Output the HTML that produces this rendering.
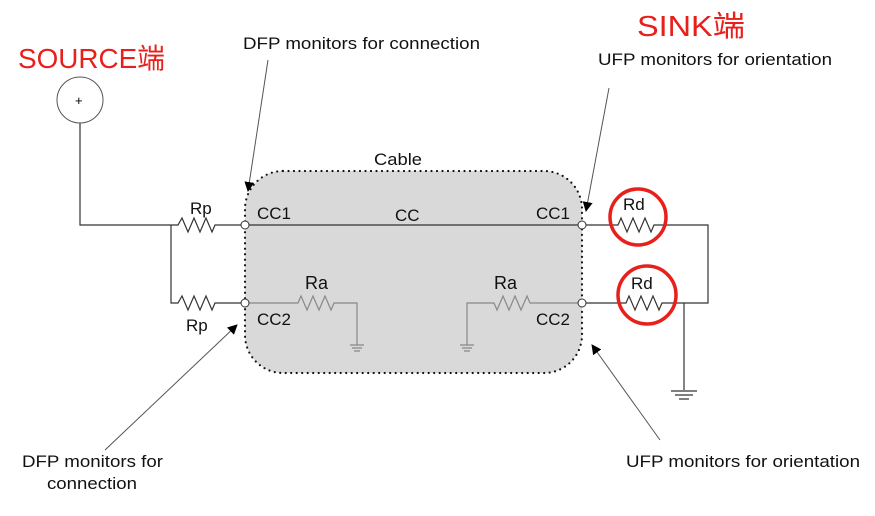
<!DOCTYPE html>
<html><head><meta charset="utf-8"><style>
body{margin:0;background:#fff}
svg text{font-family:"Liberation Sans","Noto Sans CJK SC",sans-serif}
</style></head><body>
<svg width="875" height="511" viewBox="0 0 875 511" xmlns="http://www.w3.org/2000/svg">
<defs><marker id="ah" markerWidth="10" markerHeight="10" refX="9" refY="5" orient="auto" markerUnits="userSpaceOnUse"><path d="M0,0 L10,5 L0,10 z" fill="#000"/></marker></defs>
<rect x="245" y="171" width="337" height="202" rx="38" fill="#d9d9d9" stroke="#111" stroke-width="2.2" stroke-dasharray="0 5.5" stroke-linecap="round"/>
<text x="18" y="68" font-size="28" fill="#e8201c" textLength="147" lengthAdjust="spacingAndGlyphs">SOURCE端</text>
<text x="637" y="36" font-size="29" fill="#e8201c" textLength="108" lengthAdjust="spacingAndGlyphs">SINK端</text>
<g font-size="17" fill="#111">
<text x="243" y="49" textLength="237" lengthAdjust="spacingAndGlyphs">DFP monitors for connection</text>
<text x="598" y="65" textLength="234" lengthAdjust="spacingAndGlyphs">UFP monitors for orientation</text>
<text x="374" y="165" textLength="48" lengthAdjust="spacingAndGlyphs">Cable</text>
<text x="22" y="467" textLength="141" lengthAdjust="spacingAndGlyphs">DFP monitors for</text>
<text x="47" y="489" textLength="90" lengthAdjust="spacingAndGlyphs">connection</text>
<text x="626" y="467" textLength="234" lengthAdjust="spacingAndGlyphs">UFP monitors for orientation</text>
</g>
<circle cx="80" cy="100" r="23" fill="#fff" stroke="#555" stroke-width="1"/>
<text x="75" y="105" font-size="13">+</text>
<g fill="none" stroke="#333" stroke-width="1.2">
<path d="M80,123 V225 H178 l4,-7 l6,14 l6,-14 l6,14 l6,-14 l6,14 l3,-7 H241"/>
<path d="M171,225 V303 H178 l4,-7 l6,14 l6,-14 l6,14 l6,-14 l6,14 l3,-7 H241"/>
<path d="M249,225 H578"/>
<path d="M586,225 H618 l3,-7 l6,14 l6,-14 l6,14 l6,-14 l6,14 l3,-7 H708 V303 H690"/>
<path d="M586,303 H626 l3,-7 l6,14 l6,-14 l6,14 l6,-14 l6,14 l3,-7 H690"/>
<path d="M684,303 V390 M671,391 H697 M675,395 H693 M679,399 H689"/>
</g>
<g fill="none" stroke="#888" stroke-width="1.2">
<path d="M249,303 H298 l3,-7 l6,14 l6,-14 l6,14 l6,-14 l6,14 l3,-7 H357 V345 M350,345 H364 M352,348 H362 M354,351 H360"/>
<path d="M578,303 H530 l-3,-7 l-6,14 l-6,-14 l-6,14 l-6,-14 l-6,14 l-3,-7 H467 V345 M460,345 H474 M462,348 H472 M464,351 H470"/>
</g>
<circle cx="245" cy="225" r="4" fill="#fff" stroke="#333"/>
<circle cx="245" cy="303" r="4" fill="#fff" stroke="#333"/>
<circle cx="582" cy="225" r="4" fill="#fff" stroke="#333"/>
<circle cx="582" cy="303" r="4" fill="#fff" stroke="#333"/>
<g font-size="17" fill="#111">
<text x="190" y="214">Rp</text>
<text x="186" y="331">Rp</text>
<text x="257" y="219">CC1</text>
<text x="257" y="325">CC2</text>
<text x="395" y="221">CC</text>
<text x="536" y="219">CC1</text>
<text x="536" y="325">CC2</text>
<text x="305" y="289" font-size="18">Ra</text>
<text x="494" y="289" font-size="18">Ra</text>
<text x="623" y="210">Rd</text>
<text x="631" y="289">Rd</text>
</g>
<circle cx="638" cy="217" r="28" fill="none" stroke="#e8201c" stroke-width="3.5"/>
<circle cx="647" cy="295" r="29" fill="none" stroke="#e8201c" stroke-width="3.5"/>
<g stroke="#555" stroke-width="1" marker-end="url(#ah)">
<line x1="268" y1="60" x2="248" y2="191"/>
<line x1="609" y1="88" x2="586" y2="211"/>
<line x1="105" y1="450" x2="237" y2="325"/>
<line x1="660" y1="440" x2="592" y2="345"/>
</g>
</svg>
</body></html>
